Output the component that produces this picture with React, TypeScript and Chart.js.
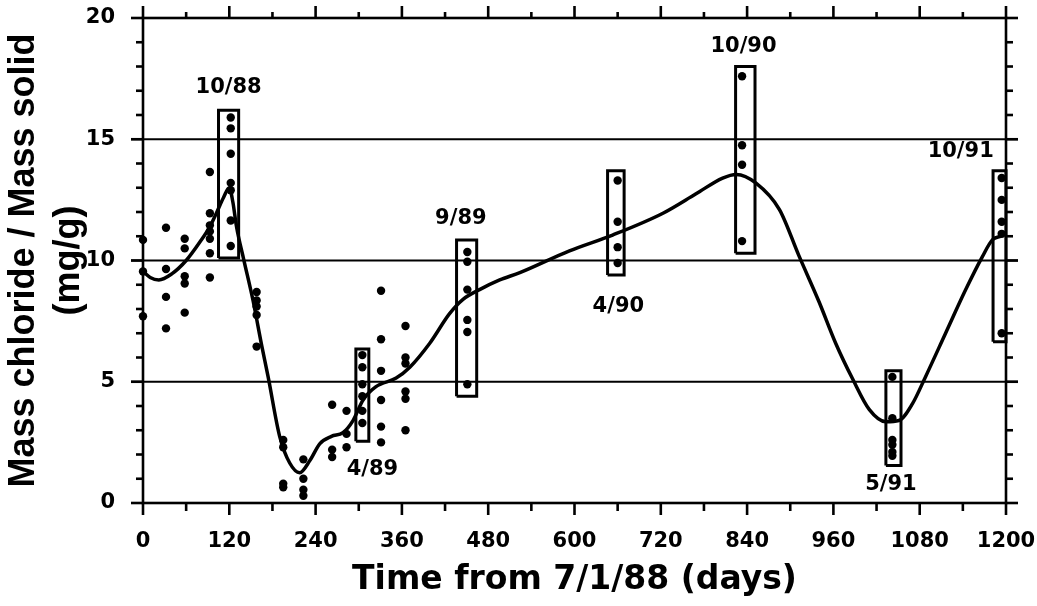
import React, { useEffect, useRef } from "react";
import { Chart, registerables } from "chart.js";

Chart.register(...registerables);

// ---- axis ticks ----
const xTickValues = [0, 120, 240, 360, 480, 600, 720, 840, 960, 1080, 1200];
const xMinorTicks = [60, 180, 300, 420, 540, 660, 780, 900, 1020, 1140];
const yTickValues = [0, 5, 10, 15, 20];
const yMinorTicks = [1, 2, 3, 4, 6, 7, 8, 9, 11, 12, 13, 14, 16, 17, 18, 19];
const yGridValues = [5, 10, 15];

// ---- measured samples (days since 7/1/88, mg/g) ----
const sampleDays = [
  0, 0, 0,
  32, 32, 32, 32,
  58, 58, 58, 58, 58,
  93, 93, 93, 93, 93, 93, 93,
  122, 122, 122, 122, 122, 122, 122,
  158, 158, 158, 158, 158,
  195, 195, 195, 195,
  223, 223, 223, 223,
  263, 263, 263,
  283, 283, 283,
  305, 305, 305, 305, 305, 305,
  331, 331, 331, 331, 331, 331,
  365, 365, 365, 365, 365, 365,
  451, 451, 451, 451, 451, 451,
  660, 660, 660, 660,
  833, 833, 833, 833,
  1042, 1042, 1042, 1042, 1042, 1042,
  1194, 1194, 1194, 1194, 1194,
];
const sampleValues = [
  10.85, 9.55, 7.7,
  11.35, 9.65, 8.5, 7.2,
  10.9, 10.5, 9.35, 9.05, 7.85,
  13.65, 11.95, 11.45, 11.2, 10.9, 10.3, 9.3,
  15.9, 15.45, 14.4, 13.2, 12.9, 11.65, 10.6,
  8.7, 8.35, 8.1, 7.75, 6.45,
  2.6, 2.3, 0.8, 0.65,
  1.8, 1.0, 0.55, 0.3,
  4.05, 2.2, 1.9,
  3.8, 2.85, 2.3,
  6.1, 5.6, 4.9, 4.4, 3.8, 3.3,
  8.75, 6.75, 5.45, 4.25, 3.15, 2.5,
  7.3, 6.0, 5.75, 4.6, 4.3, 3.0,
  10.35, 9.95, 8.8, 7.55, 7.05, 4.9,
  13.3, 11.6, 10.55, 9.9,
  17.6, 14.75, 13.95, 10.8,
  5.2, 3.5, 2.6, 2.4, 2.1, 1.95,
  13.4, 12.5, 11.6, 11.1, 7.0,
];

// ---- smoothed fit curve ----
const curveDays = [
  0, 10, 22, 40, 60, 80, 93, 102, 112, 120, 125, 130, 140, 153, 165, 174, 190,
  204, 218, 232, 246, 262, 278, 292, 306, 324, 352, 371, 399, 426, 445, 468,
  496, 524, 593, 653, 723, 769, 806, 825, 852, 885, 912, 940, 963, 987, 1010,
  1033, 1051, 1070, 1088, 1116, 1144, 1167, 1181, 1193,
];
const curveValues = [
  9.55, 9.3, 9.2, 9.45, 10.0, 10.8, 11.4, 11.95, 12.6, 13.0, 12.4, 11.4, 10.05, 8.35, 6.5, 5.2, 2.75,
  1.65, 1.25, 1.75, 2.45, 2.75, 2.9, 3.4, 4.25, 4.8, 5.15, 5.6, 6.6, 7.8, 8.4, 8.8,
  9.2, 9.5, 10.4, 11.05, 11.95, 12.75, 13.4, 13.55, 13.2, 12.1, 10.2, 8.3, 6.6, 5.1, 3.85,
  3.35, 3.4, 4.1, 5.2, 7.0, 8.8, 10.15, 10.85, 11.0,
];

// ---- sampling campaign boxes ----
const boxLabels = ["10/88", "4/89", "9/89", "4/90", "10/90", "5/91", "10/91"];
const boxDayStart = [105, 296, 436, 646, 824, 1033, 1182];
const boxDayEnd = [133, 314, 464, 669, 851, 1054, 1200];
const boxLow = [10.1, 2.55, 4.4, 9.4, 10.3, 1.55, 6.65];
const boxHigh = [16.2, 6.35, 10.85, 13.7, 18.0, 5.45, 13.7];
const labelDays = [119, 319, 442, 661, 835, 1040, 1137];
const labelValues = [17.15, 1.36, 11.75, 8.12, 18.84, 0.75, 14.5];

const TICK_FONT = "DejaVu Sans";

const framePlugin = {
  id: "frameTicks",
  beforeDraw(chart: any) {
    const { ctx, width, height } = chart;
    ctx.save();
    ctx.fillStyle = "#fff";
    ctx.fillRect(0, 0, width, height);
    ctx.restore();
  },
  beforeDatasetsDraw(chart: any) {
    const { ctx, chartArea, scales } = chart;
    const { left, right } = chartArea;
    ctx.save();
    ctx.strokeStyle = "#000";
    ctx.lineWidth = 2;
    yGridValues.forEach((v) => {
      const py = scales.y.getPixelForValue(v);
      ctx.beginPath();
      ctx.moveTo(left - 12, py);
      ctx.lineTo(right + 12, py);
      ctx.stroke();
    });
    ctx.restore();
  },
  afterDatasetsDraw(chart: any) {
    const { ctx, chartArea, scales } = chart;
    const { left, right, top, bottom } = chartArea;
    const x = scales.x;
    const y = scales.y;
    ctx.save();
    ctx.strokeStyle = "#000";
    ctx.lineWidth = 2.6;
    ctx.lineCap = "butt";
    ctx.strokeRect(left, top, right - left, bottom - top);
    const seg = (x1: number, y1: number, x2: number, y2: number) => {
      ctx.beginPath();
      ctx.moveTo(x1, y1);
      ctx.lineTo(x2, y2);
      ctx.stroke();
    };
    xTickValues.forEach((v) => {
      const px = x.getPixelForValue(v);
      seg(px, bottom, px, bottom + 12);
      seg(px, top, px, top - 12);
    });
    xMinorTicks.forEach((v) => {
      const px = x.getPixelForValue(v);
      seg(px, bottom, px, bottom + 8);
      seg(px, top, px, top - 6);
    });
    yTickValues.forEach((v) => {
      const py = y.getPixelForValue(v);
      seg(left - 12, py, left, py);
      seg(right, py, right + 12, py);
    });
    yMinorTicks.forEach((v) => {
      const py = y.getPixelForValue(v);
      seg(left - 7, py, left, py);
      seg(right, py, right + 7, py);
    });
    // campaign labels
    ctx.fillStyle = "#000";
    ctx.font = `bold 21px "${TICK_FONT}"`;
    ctx.textAlign = "center";
    ctx.textBaseline = "middle";
    boxLabels.forEach((t, i) => {
      ctx.fillText(t, x.getPixelForValue(labelDays[i]), y.getPixelForValue(labelValues[i]));
    });
    ctx.restore();
  },
};

export default function App() {
  const canvasRef = useRef<HTMLCanvasElement | null>(null);

  useEffect(() => {
    if (!canvasRef.current) return;

    const boxDatasets = boxLabels.map((lbl, i) => ({
      type: "line" as const,
      label: `box ${lbl}`,
      data: [
        { x: boxDayStart[i], y: boxLow[i] },
        { x: boxDayEnd[i], y: boxLow[i] },
        { x: boxDayEnd[i], y: boxHigh[i] },
        { x: boxDayStart[i], y: boxHigh[i] },
        { x: boxDayStart[i], y: boxLow[i] },
      ],
      borderColor: "#000",
      borderWidth: 3,
      borderJoinStyle: "miter" as const,
      pointRadius: 0,
      fill: false,
      tension: 0,
      clip: false as any,
    }));

    const chart = new Chart(canvasRef.current, {
      type: "line",
      data: {
        datasets: [
          {
            type: "scatter",
            label: "samples",
            data: sampleDays.map((d, i) => ({ x: d, y: sampleValues[i] })),
            pointRadius: 4.2,
            pointBackgroundColor: "#000",
            pointBorderWidth: 0,
            showLine: false,
            clip: false as any,
          } as any,
          {
            type: "line",
            label: "fit",
            data: curveDays.map((d, i) => ({ x: d, y: curveValues[i] })),
            borderColor: "#000",
            borderWidth: 3.5,
            pointRadius: 0,
            fill: false,
            cubicInterpolationMode: "monotone",
            clip: false as any,
          },
          ...boxDatasets,
        ],
      },
      options: {
        responsive: false,
        animation: false,
        events: [],
        layout: { padding: { top: 18, right: 31, bottom: 0, left: 0 } },
        plugins: {
          legend: { display: false },
          tooltip: { enabled: false },
        },
        scales: {
          x: {
            type: "linear",
            min: 0,
            max: 1200,
            afterBuildTicks: (s: any) => {
              s.ticks = xTickValues.map((v) => ({ value: v }));
            },
            ticks: {
              font: { family: TICK_FONT, size: 21, weight: "bold" },
              color: "#000",
              padding: 26,
              maxRotation: 0,
              autoSkip: false,
              callback: (v: any) => String(v),
            },
            grid: { display: false, drawTicks: false },
            border: { display: false },
            title: {
              display: true,
              text: "Time from 7/1/88 (days)",
              font: { family: "DejaVu Sans", size: 33, weight: "bold" },
              color: "#000",
              padding: { top: 0, bottom: 6 },
            },
            afterFit: (s: any) => {
              s.height = 103;
              s.paddingLeft = 0;
              s.paddingRight = 0;
            },
          },
          y: {
            type: "linear",
            min: 0,
            max: 20,
            afterBuildTicks: (s: any) => {
              s.ticks = yTickValues.map((v) => ({ value: v }));
            },
            ticks: {
              font: { family: TICK_FONT, size: 21, weight: "bold" },
              color: "#000",
              padding: 28,
              callback: (v: any) => String(v),
            },
            grid: { display: false, drawTicks: false },
            border: { display: false },
            title: {
              display: true,
              text: ["Mass chloride / Mass solid", "(mg/g)"],
              font: { family: "Liberation Sans", size: 36, weight: "bold", lineHeight: 1.25 },
              color: "#000",
              padding: { top: 2, bottom: 0 },
            },
            afterFit: (s: any) => {
              s.width = 143;
              s.paddingTop = 0;
              s.paddingBottom = 0;
            },
          },
        },
      } as any,
      plugins: [framePlugin],
    });

    return () => chart.destroy();
  }, []);

  return (
    <div style={{ position: "absolute", left: 0, top: 0, width: 1037, height: 606, background: "#fff" }}>
      <canvas ref={canvasRef} width={1037} height={606} style={{ display: "block" }} />
    </div>
  );
}
